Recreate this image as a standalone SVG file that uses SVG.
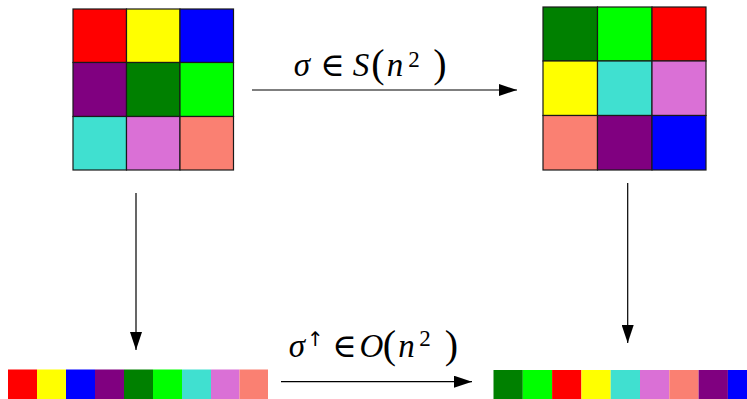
<svg xmlns="http://www.w3.org/2000/svg" width="747" height="399" viewBox="0 0 747 399">
<style>
.c{stroke:#1a1a1a;stroke-width:1.2}
.s{stroke:none}
.r{fill:#FF0000}.y{fill:#FFFF00}.b{fill:#0000FF}.p{fill:#800080}.g{fill:#008000}.l{fill:#00FF00}.t{fill:#40E0D0}.o{fill:#DA70D6}.m{fill:#FA8072}
.e{stroke:#000;stroke-width:1.2;fill:none}
.lbl{font-family:"Liberation Serif","DejaVu Serif",serif;font-size:33px;fill:#000;text-anchor:middle}
.i{font-style:italic}
.sup{font-size:23px}
.arr{font-family:"DejaVu Sans","Liberation Sans",sans-serif;font-size:20px}
.par{font-size:40px}
</style>
<defs>
<marker id="ah" viewBox="0 0 18 12" refX="18" refY="6" markerWidth="18" markerHeight="12" markerUnits="userSpaceOnUse" orient="auto">
<path d="M0,0 L18,6 L0,12 Z" fill="#000"/>
</marker>
</defs>
<g id="grid-original">
<rect class="c r" x="73" y="9" width="53.5" height="53.5"/>
<rect class="c y" x="126.5" y="9" width="53.5" height="53.5"/>
<rect class="c b" x="180" y="9" width="53.5" height="53.5"/>
<rect class="c p" x="73" y="62.5" width="53.5" height="54"/>
<rect class="c g" x="126.5" y="62.5" width="53.5" height="54"/>
<rect class="c l" x="180" y="62.5" width="53.5" height="54"/>
<rect class="c t" x="73" y="116.5" width="53.5" height="53.5"/>
<rect class="c o" x="126.5" y="116.5" width="53.5" height="53.5"/>
<rect class="c m" x="180" y="116.5" width="53.5" height="53.5"/>
</g>
<g id="grid-permuted">
<rect class="c g" x="543" y="7" width="54.5" height="54"/>
<rect class="c l" x="597.5" y="7" width="54.5" height="54"/>
<rect class="c r" x="652" y="7" width="54" height="54"/>
<rect class="c y" x="543" y="61" width="54.5" height="54.5"/>
<rect class="c t" x="597.5" y="61" width="54.5" height="54.5"/>
<rect class="c o" x="652" y="61" width="54" height="54.5"/>
<rect class="c m" x="543" y="115.5" width="54.5" height="54.5"/>
<rect class="c p" x="597.5" y="115.5" width="54.5" height="54.5"/>
<rect class="c b" x="652" y="115.5" width="54" height="54.5"/>
</g>
<g id="strip-original">
<rect class="s r" x="8" y="369.5" width="29" height="29.5"/>
<rect class="s y" x="37" y="369.5" width="29" height="29.5"/>
<rect class="s b" x="66" y="369.5" width="29" height="29.5"/>
<rect class="s p" x="95" y="369.5" width="29" height="29.5"/>
<rect class="s g" x="124" y="369.5" width="29" height="29.5"/>
<rect class="s l" x="153" y="369.5" width="29" height="29.5"/>
<rect class="s t" x="182" y="369.5" width="29" height="29.5"/>
<rect class="s o" x="211" y="369.5" width="28.5" height="29.5"/>
<rect class="s m" x="239.5" y="369.5" width="28.5" height="29.5"/>
</g>
<g id="strip-sorted">
<rect class="s g" x="493.5" y="370" width="29.3" height="29"/>
<rect class="s l" x="522.8" y="370" width="29.3" height="29"/>
<rect class="s r" x="552.1" y="370" width="29.3" height="29"/>
<rect class="s y" x="581.4" y="370" width="29.3" height="29"/>
<rect class="s t" x="610.7" y="370" width="29.3" height="29"/>
<rect class="s o" x="640" y="370" width="29.3" height="29"/>
<rect class="s m" x="669.3" y="370" width="29.3" height="29"/>
<rect class="s p" x="698.6" y="370" width="29.3" height="29"/>
<rect class="s b" x="727.9" y="370" width="29.3" height="29"/>
</g>
<g id="connectors">
<line class="e" x1="252" y1="90" x2="517" y2="90" marker-end="url(#ah)"/>
<line class="e" x1="281" y1="381.7" x2="472" y2="381.7" marker-end="url(#ah)"/>
<line class="e" x1="136" y1="193" x2="136" y2="350" marker-end="url(#ah)"/>
<line class="e" x1="627.7" y1="183" x2="627.7" y2="343" marker-end="url(#ah)"/>
</g>
<g id="labels">
<text class="lbl" y="76"><tspan class="i" x="302">σ</tspan><tspan x="332.5">∈</tspan><tspan class="i" x="361">S</tspan><tspan class="par" x="378" y="77">(</tspan><tspan class="i" x="395" y="76">n</tspan><tspan class="sup" x="414" y="67">2</tspan><tspan class="par" x="440" y="77">)</tspan></text>
<text class="lbl" y="357"><tspan class="i" x="297">σ</tspan><tspan class="arr" x="315.5" y="346">↑︎</tspan><tspan x="344.5" y="357">∈</tspan><tspan class="i" x="371.5">O</tspan><tspan class="par" x="389.5" y="358">(</tspan><tspan class="i" x="406.5" y="357">n</tspan><tspan class="sup" x="425" y="346">2</tspan><tspan class="par" x="451.5" y="358">)</tspan></text>
</g>
</svg>
